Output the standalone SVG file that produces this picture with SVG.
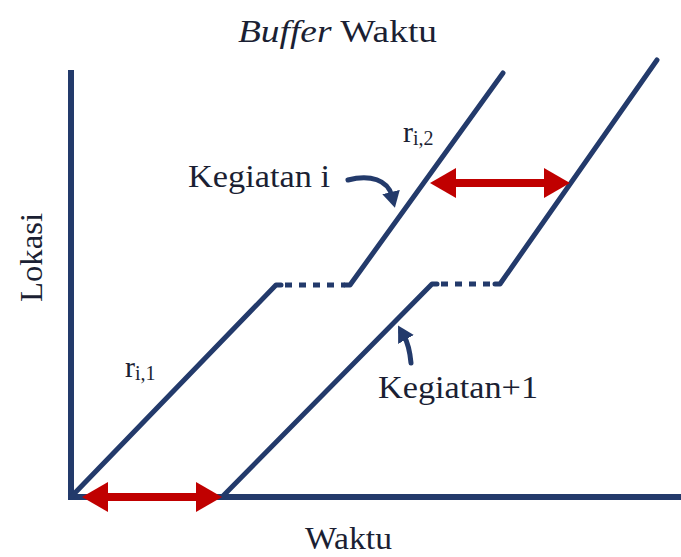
<svg xmlns="http://www.w3.org/2000/svg" width="681" height="557" viewBox="0 0 681 557">
  <style>
    .axis { stroke: #233a6b; stroke-width: 6; fill: none; stroke-linecap: square; }
    .act { stroke: #233a6b; stroke-width: 5; fill: none; stroke-linecap: round; stroke-linejoin: round; }
    .dots { stroke: #233a6b; stroke-width: 5; fill: none; stroke-dasharray: 7 7; }
    .pointer { stroke: #233a6b; stroke-width: 5; fill: none; stroke-linecap: round; }
    .buffer { stroke: #c00000; stroke-width: 8; fill: none; }
    .lbl { font-size: 32px; }
    .rate { font-size: 30px; }
    .sub { font-size: 20px; }
  </style>
  <defs>
    <marker id="redHead" markerUnits="userSpaceOnUse" markerWidth="26" markerHeight="30" refX="6" refY="15" orient="auto-start-reverse">
      <path d="M0,0 L26,15 L0,30 Z" fill="#c00000"/>
    </marker>
    <marker id="navyHead" markerUnits="userSpaceOnUse" markerWidth="18" markerHeight="18" refX="4" refY="9" orient="auto">
      <path d="M0,0 L16,9 L0,18 Z" fill="#233a6b"/>
    </marker>
  </defs>

  <!-- axes -->
  <g id="axes">
    <line class="axis" x1="71" y1="73" x2="71" y2="497"/>
    <line class="axis" x1="71" y1="497" x2="681" y2="497"/>
  </g>

  <!-- activity i -->
  <g id="activity-i">
    <polyline class="act" points="71,497 276,285 281,285"/>
    <line class="dots" x1="285" y1="285" x2="345" y2="285"/>
    <polyline class="act" points="345,285 350,285 503,73"/>
  </g>

  <!-- activity i+1 -->
  <g id="activity-i1">
    <polyline class="act" points="222,497 432,284 437,284"/>
    <line class="dots" x1="441" y1="284" x2="495" y2="284"/>
    <polyline class="act" points="495,284 500,284 657,60"/>
  </g>

  <!-- connectors: time buffers and label pointers -->
  <g id="connectors">
    <line class="buffer" x1="102" y1="497" x2="202" y2="497" marker-start="url(#redHead)" marker-end="url(#redHead)"/>
    <line class="buffer" x1="450" y1="183" x2="550" y2="183" marker-start="url(#redHead)" marker-end="url(#redHead)"/>
    <path class="pointer" d="M348,180 C370,174 388,180 392,196" marker-end="url(#navyHead)"/>
    <path class="pointer" d="M411,363 C410,352 408,343 404,336" marker-end="url(#navyHead)"/>
  </g>

  <!-- labels -->
  <g font-family="'Liberation Serif', 'Times New Roman', Times, serif" fill="#1b1f33">
    <g id="title">
      <text class="lbl" x="238" y="42" textLength="199" lengthAdjust="spacingAndGlyphs"><tspan font-style="italic">Buffer</tspan> Waktu</text>
    </g>
    <g id="label-x">
      <text class="lbl" x="305" y="549" textLength="87" lengthAdjust="spacingAndGlyphs">Waktu</text>
    </g>
    <g id="label-y">
      <text class="lbl" transform="translate(42,302) rotate(-90)" textLength="89" lengthAdjust="spacingAndGlyphs">Lokasi</text>
    </g>
    <g id="label-i">
      <text class="lbl" x="188" y="187" textLength="142" lengthAdjust="spacingAndGlyphs">Kegiatan i</text>
    </g>
    <g id="label-i1">
      <text class="lbl" x="378" y="398" textLength="160" lengthAdjust="spacingAndGlyphs">Kegiatan+1</text>
    </g>
    <g id="rate-1">
      <text class="rate" x="125" y="377">r<tspan class="sub" dy="3">i,1</tspan></text>
    </g>
    <g id="rate-2">
      <text class="rate" x="403" y="142">r<tspan class="sub" dy="3">i,2</tspan></text>
    </g>
  </g>
</svg>
